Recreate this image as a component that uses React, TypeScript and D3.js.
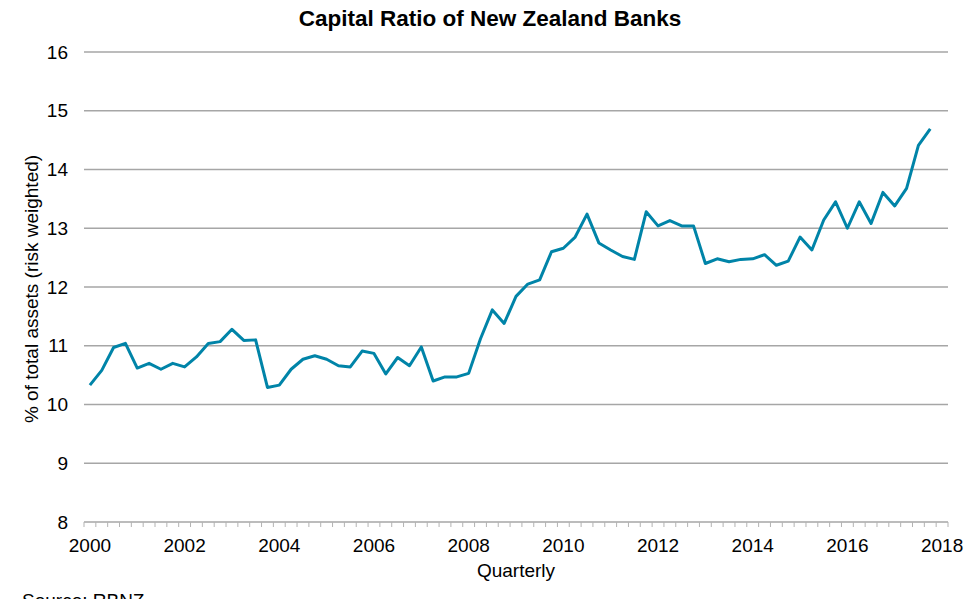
import React from "react";
import * as d3 from "d3";

// Quarterly categories on the axis: 2000Q1 .. 2018Q1 (73 slots)
const quarters: string[] = Array.from({ length: 73 }, (_, i) => `${2000 + Math.floor(i / 4)}Q${(i % 4) + 1}`);
const yearLabels: string[] = ["2000", "2002", "2004", "2006", "2008", "2010", "2012", "2014", "2016", "2018"];
const yTicks: number[] = [8, 9, 10, 11, 12, 13, 14, 15, 16];

// Capital ratio (% of total assets, risk weighted), 2000Q1 .. 2017Q4
const capitalRatio: number[] = [
  10.33, 10.58, 10.97, 11.04, 10.62, 10.70, 10.60, 10.70,
  10.64, 10.81, 11.04, 11.07, 11.28, 11.09, 11.10, 10.29,
  10.33, 10.60, 10.77, 10.83, 10.77, 10.66, 10.64, 10.91,
  10.87, 10.52, 10.80, 10.66, 10.98, 10.40, 10.47, 10.47,
  10.53, 11.12, 11.61, 11.38, 11.84, 12.05, 12.12, 12.60,
  12.66, 12.85, 13.24, 12.75, 12.63, 12.52, 12.47, 13.28,
  13.04, 13.13, 13.04, 13.04, 12.40, 12.48, 12.43, 12.47,
  12.48, 12.55, 12.37, 12.44, 12.85, 12.63, 13.14, 13.45,
  13.00, 13.45, 13.08, 13.61, 13.38, 13.68, 14.41, 14.69,
];

const W = 964;
const H = 599;
const left = 84;
const right = 948;
const top = 52;
const bottom = 522;
const font = "'Liberation Sans', Arial, sans-serif";

export default function App() {
  const x = d3.scaleBand<string>().domain(quarters).range([left, right]).paddingInner(0).paddingOuter(0);
  const y = d3.scaleLinear().domain([8, 16]).range([bottom, top]);
  const cx = (q: string) => (x(q) as number) + x.bandwidth() / 2;

  const line = d3
    .line<number>()
    .x((_, i) => cx(quarters[i]))
    .y((d) => y(d));

  const boundaries = [...quarters.map((q) => x(q) as number), right];

  return (
    <svg
      width={W}
      height={H}
      style={{ position: "absolute", left: 0, top: 0, background: "#fff" }}
      fontFamily={font}
    >
      <text x={490} y={26} textAnchor="middle" fontSize={22.5} fontWeight="bold" fill="#000">
        Capital Ratio of New Zealand Banks
      </text>

      {yTicks.map((t) => (
        <g key={t}>
          {t !== 8 && (
            <line x1={left} x2={right} y1={y(t)} y2={y(t)} stroke="#a6a6a6" strokeWidth={1.3} />
          )}
          <text x={68} y={y(t)} dy="0.35em" textAnchor="end" fontSize={19} fill="#000">
            {t}
          </text>
        </g>
      ))}

      {/* x axis */}
      <line x1={left} x2={right} y1={bottom} y2={bottom} stroke="#a6a6a6" strokeWidth={1.5} />
      {boundaries.map((b, i) => (
        <line key={i} x1={b} x2={b} y1={bottom} y2={bottom + 5} stroke="#b3b3b3" strokeWidth={1} />
      ))}
      {yearLabels.map((lab) => (
        <text key={lab} x={cx(`${lab}Q1`)} y={552} textAnchor="middle" fontSize={19} fill="#000">
          {lab}
        </text>
      ))}

      <path d={line(capitalRatio) as string} fill="none" stroke="#0084a8" strokeWidth={3} strokeLinejoin="round" />

      <text x={516} y={577} textAnchor="middle" fontSize={19} fill="#000">
        Quarterly
      </text>
      <text
        transform={`translate(38,${(top + bottom) / 2 + 2}) rotate(-90)`}
        textAnchor="middle"
        fontSize={19}
        fill="#000"
      >
        % of total assets (risk weighted)
      </text>
      <text x={22} y={607} fontSize={19} fill="#000">
        Source: RBNZ
      </text>
    </svg>
  );
}
